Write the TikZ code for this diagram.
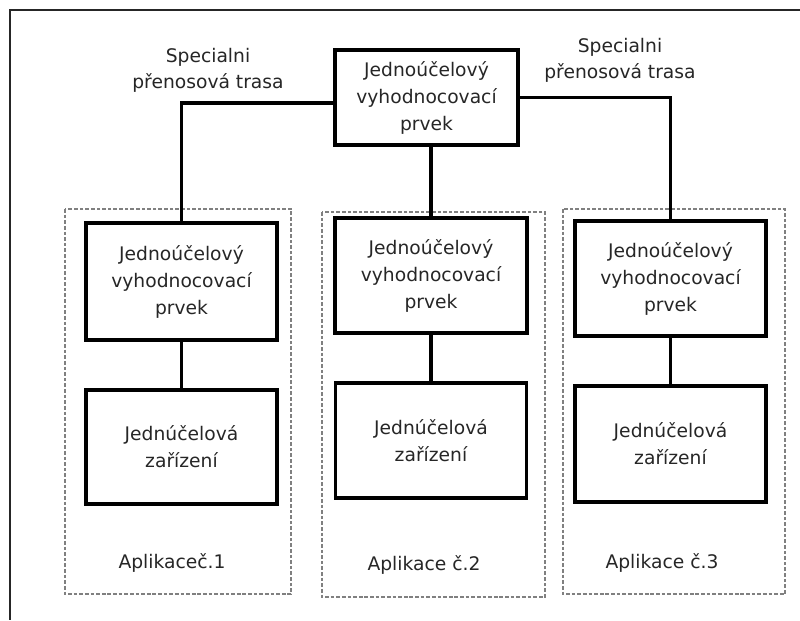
\documentclass[tikz,border=0pt]{standalone}
\usepackage{fontspec}
\setmainfont{DejaVu Sans}
\usetikzlibrary{calc}
\newlength\pxu
\setlength\pxu{0.025cm}
\begin{document}
\begin{tikzpicture}[x=0.025cm,y=-0.025cm,
  unit/.style={draw=black,line width=2.5pt,align=center,inner sep=0pt,
    minimum width=191\pxu,minimum height=115\pxu,
    font=\fontsize{13.3}{19.2}\selectfont,text=black!85},
  group/.style={draw=black!50,line width=1pt,dash pattern=on 2.6pt off 1.4pt},
  wire/.style={line width=2.5pt},
  caption/.style={align=center,font=\fontsize{13.3}{18.5}\selectfont,text=black!85}]
\useasboundingbox (0,0) rectangle (800,620);
% outer frame (top and left edge)
\draw[line width=1.2pt,black!85] (800,10) -- (10,10) -- (10,620);

% application groups
\draw[group] (65,209) rectangle (291,594);
\draw[group] (322,212) rectangle (545,597);
\draw[group] (563,209) rectangle (785,594);

% central evaluation unit
\node[unit,minimum width=183\pxu,minimum height=95\pxu] (top) at (426.5,97.5)
  {Jednoúčelový\\vyhodnocovací\\prvek};

% application 1
\node[unit,minimum height=117\pxu] (l1) at (181.5,281.5) {Jednoúčelový\\vyhodnocovací\\prvek};
\node[unit,minimum height=114\pxu] (l2) at (181.5,447) {Jednúčelová\\zařízení};
% application 2
\node[unit,minimum width=192\pxu] (m1) at (431,275.5) {Jednoúčelový\\vyhodnocovací\\prvek};
\node[unit] (m2) at (431,440.5) {Jednúčelová\\zařízení};
% application 3
\node[unit] (r1) at (670.5,278.5) {Jednoúčelový\\vyhodnocovací\\prvek};
\node[unit,minimum height=116\pxu] (r2) at (670.5,444) {Jednúčelová\\zařízení};

% transmission paths
\draw[wire] ($(top.west)+(0,5.5)$) -| (l1.north);
\draw[wire] (top.east) -| (r1.north);
\draw[wire] (m1.north |- top.south) -- (m1.north);
\draw[wire] (l1.south) -- (l2.north);
\draw[wire] (m1.south) -- (m2.north);
\draw[wire] (r1.south) -- (r2.north);

% labels
\node[caption] (tl) at (208,70) {Specialni\\přenosová trasa};
\node[caption] (tr) at (620,60) {Specialni\\přenosová trasa};
\node[caption] (a1) at (172,563) {Aplikaceč.1};
\node[caption] (a2) at (424,565) {Aplikace č.2};
\node[caption] (a3) at (662,563) {Aplikace č.3};
\end{tikzpicture}
\end{document}
